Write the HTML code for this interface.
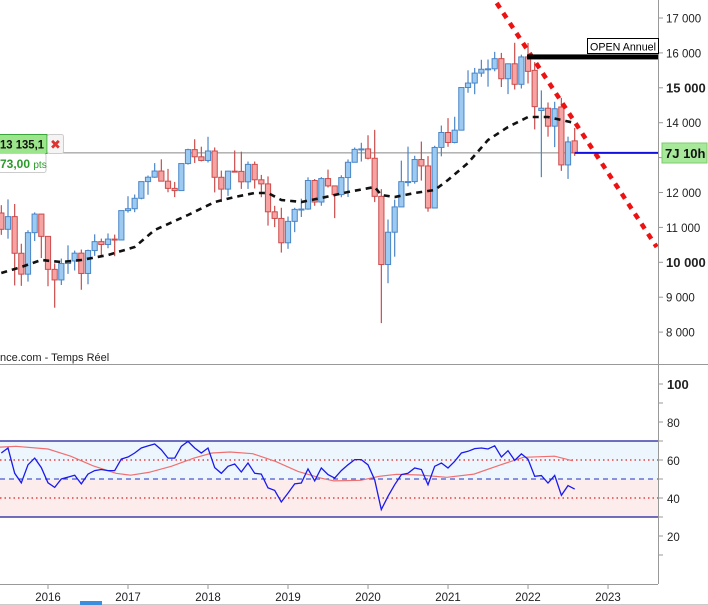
<!DOCTYPE html>
<html><head><meta charset="utf-8"><style>
html,body{margin:0;padding:0;background:#fff;}
svg{display:block;font-family:"Liberation Sans",sans-serif;}
</style></head><body>
<svg id="chart" width="708" height="605" viewBox="0 0 708 605">
<defs>
<clipPath id="pclip"><rect x="0" y="0" width="658" height="364"/></clipPath>
<clipPath id="rclip"><rect x="0" y="365" width="658" height="219"/></clipPath>
</defs>
<g id="rsiBands"></g>
<g id="grid"></g>
<g id="price" clip-path="url(#pclip)"></g>
<g id="rsi" clip-path="url(#rclip)"></g>
<g id="ann"></g>
</svg>
<script>
const startMonth = -7; // Jun 2015 relative to Jan 2016
const opens = [11413,10945,11309,10259,9660,10850,11382,
10743,9798,9495,9965,10038,10262,9680,10337,10592,10511,10665,10640,
11481,11535,11834,12312,12438,12615,12325,12118,12055,12829,13229,13023,
12918,13189,12436,12097,12612,12605,12306,12806,12364,12247,11447,11257,
10559,11173,11516,11526,12344,11727,12399,12189,11939,12428,12866,13236,
13249,12981,11890,9936,10862,11587,12311,12313,12945,12761,11556,13291,
13719,13433,13786,15008,15136,15421,15531,15544,15835,15260,15688,15100,
15885,15500,14350,14415,13900,14450,12790,13480];
const highs = [11636,11802,11670,10532,10918,11430,11299,
10486,9967,10107,10486,10336,10366,10363,10802,10680,10827,10794,11481,
11893,11943,12312,12486,12842,12951,12676,12303,12830,13255,13526,13312,
13597,13291,12627,12623,13204,13170,12887,12887,12504,12461,11619,11563,
11311,11561,11823,12435,12386,12440,12656,12165,12494,12948,13289,13425,
13640,13795,12097,11225,11795,12913,13314,13052,13460,13043,13339,13919,
14131,14170,15008,15502,15569,15803,15811,16030,16000,15700,16290,15950,
16285,15736,14926,14580,14600,14710,13600,13850];
const lows = [10787,10677,9338,9325,9447,10609,10123,
9314,8699,9349,9668,9765,9214,9370,10185,10188,10404,10175,10632,
11425,11436,11805,11935,12420,12325,12007,11868,12045,12799,12847,12892,
12860,12003,11726,11903,12596,12104,12103,12115,11865,11051,11009,10279,
10386,10864,11299,11505,11620,11620,12144,11266,11864,11872,12907,12887,
12948,11725,8256,9400,10161,11628,12178,12253,12341,11450,11626,13036,
13310,13409,13830,14857,14816,15315,15032,15474,15022,14819,14951,14979,
15124,13808,12439,13600,13300,12620,12390,13050];
const closes = [10945,11309,10259,9660,10850,11382,10743,
9798,9495,9965,10038,10262,9680,10337,10592,10511,10665,10640,11481,
11535,11834,12312,12438,12615,12325,12118,12055,12829,13229,13023,12918,
13189,12436,12097,12612,12605,12306,12806,12364,12247,11447,11257,10559,
11173,11516,11526,12344,11727,12399,12189,11939,12428,12866,13236,13249,
12981,11890,9936,10862,11587,12311,12313,12945,12761,11556,13291,13719,
13433,13786,15008,15136,15421,15531,15544,15835,15260,15688,15100,15885,
15471,14461,14415,13900,14400,12790,13450,13135];
const maMonths = [-7,-4,-1,2,5,9,13,16,21,25,28,31,33,35,38,41,45,49,50,52,55,58,60,63,66,69,72,75,77,79];
const maValues = [9694,9865,10066,10009,10066,10209,10438,10926,11355,11728,11871,11986,11986,11785,11728,11843,12014,12158,11928,11871,11986,12072,12358,12845,13504,13877,14163,14163,14077,13991];
const rsiValues = [63.7,66.3,53,48,57.5,61,56,
48,45.6,50,51,52,47.4,52.6,54.4,55,54.4,54.4,60.5,
61.6,63.7,66.3,67.4,68.4,65.4,61,61,67.2,69.8,66.3,63.7,
66.3,56,53,56.7,57.9,53.7,58.4,53,52.6,45.3,44,37.9,
42.6,47.4,47.9,55.3,49,55.8,52.3,50.5,54.4,57.5,60.2,60.2,
57.5,49.6,33.9,40.9,47,52.3,53,55.8,55,47,56.7,58.4,
55.8,59.3,63.7,64.6,66,66.3,65.8,67.5,61.6,64.9,59.8,63.2,
60.5,51.4,51.8,47.9,51.9,41.4,46.5,44.7];
const sigMonths = [-7.2,-4.8,0,3.4,6.7,10.2,12.4,15.1,18.5,21.9,24.6,27.3,30.7,34.1,37.5,40.9,42.9,46.9,49.7,52.3,55.7,59.8,63.9,67.9,71.3,76.0,78.7];
const sigValues = [66.8,67.2,65.8,62,57,53,52,53.5,56.7,61,63.7,64.2,63.3,59.3,54,50.5,49,49.3,51.4,52.5,52.1,50.9,52.6,57.5,61.4,62,59.6];
const priceTicks = [17000,16000,15000,14000,13000,12000,11000,10000,9000,8000];
const priceTickLabels = ["17 000","16 000","15 000","14 000","13 000","12 000","11 000","10 000","9 000","8 000"];
const rsiTicks = [100,80,60,40,20];
const yearLabels = ["2016","2017","2018","2019","2020","2021","2022","2023"];
const lastPrice = 13135.1;
const yearOpen = 15885;
const trendStart = [67.3,17430];
const trendEnd = [91.3,10438];

const NS="http://www.w3.org/2000/svg";
const xM = m => 48 + m*6.667;
const yP = v => 18 + (17000 - v)*0.0349;
const yR = v => 460 - (v - 60)*1.9;
function mk(parent, tag, attrs, text){
  const el=document.createElementNS(NS,tag);
  for(const k in attrs) el.setAttribute(k,attrs[k]);
  if(text!==undefined) el.textContent=text;
  parent.appendChild(el); return el;
}
const gGrid=document.getElementById('grid'), gP=document.getElementById('price'),
  gR=document.getElementById('rsi'), gA=document.getElementById('ann'), gB=document.getElementById('rsiBands');

let b1=mk(gB,'rect',{x:0,y:yR(70),width:658,height:yR(50)-yR(70),fill:'#eef6fd'});


let b2=mk(gB,'rect',{x:0,y:yR(50),width:658,height:yR(30)-yR(50),fill:'#fdecec'});


[[70,'#1a1a9a','none',1.2],[30,'#1a1a9a','none',1.2],[50,'#2030c0','5,4',1],[60,'#e02020','1.5,3',1.2],[40,'#e02020','1.5,3',1.2]].forEach(l=>{
  const ln=mk(gB,'line',{x1:0,x2:658,y1:yR(l[0]),y2:yR(l[0]),stroke:l[1],'stroke-width':l[3],'stroke-dasharray':l[2]});
  
  
});

mk(gGrid,'line',{x1:658.5,x2:658.5,y1:0,y2:584,stroke:'#999','stroke-width':1});
mk(gGrid,'line',{x1:0,x2:708,y1:364.5,y2:364.5,stroke:'#999','stroke-width':1});
mk(gGrid,'line',{x1:0,x2:658,y1:584.5,y2:584.5,stroke:'#999','stroke-width':1});
mk(gGrid,'line',{x1:0,x2:708,y1:604.5,y2:604.5,stroke:'#ccc','stroke-width':1});
mk(gGrid,'rect',{x:80,y:601,width:22,height:4,fill:'#3a8ee0'});
priceTicks.forEach((v,i)=>{
  const y=yP(v);
  mk(gGrid,'line',{x1:658,x2:663,y1:y,y2:y,stroke:'#999'});
  const big=(v===15000||v===10000);
  const t=mk(gGrid,'text',{x:666,y:y+4.5,'font-size':big?13:11.5,'font-weight':big?'bold':'normal',fill:'#222'},priceTickLabels[i]);
  
  
});
rsiTicks.forEach(v=>{
  const y=yR(v);
  mk(gGrid,'line',{x1:658,x2:663,y1:y,y2:y,stroke:'#999'});
  mk(gGrid,'line',{x1:658,x2:663,y1:yR(v-10),y2:yR(v-10),stroke:'#999'});
  const t=mk(gGrid,'text',{x:667,y:y+5,'font-size':v===100?13:11.5,'font-weight':v===100?'bold':'normal',fill:'#222'},String(v));
  
  
});
yearLabels.forEach((lab,i)=>{
  const x=xM(i*12);
  mk(gGrid,'line',{x1:x,x2:x,y1:584,y2:589,stroke:'#999'});
  const t=mk(gGrid,'text',{x:x,y:601,'font-size':11.5,'text-anchor':'middle',fill:'#222'},lab);
  
  
});

mk(gP,'line',{x1:0,x2:658,y1:yP(lastPrice),y2:yP(lastPrice),stroke:'#888','stroke-width':1});

closes.forEach((c,i)=>{
  const m=startMonth+i, x=xM(m), o=opens[i];
  const up=c>=o;
  const stroke=up?'#4a86c8':'#cc4c4c', fill=up?'#9ccaf0':'#f5a3a3';
  const g=mk(gP,'g',{});
  
  
  mk(g,'line',{x1:x,x2:x,y1:yP(highs[i]),y2:yP(lows[i]),stroke:stroke,'stroke-width':1.2});
  const top=yP(Math.max(o,c)), bot=yP(Math.min(o,c));
  mk(g,'rect',{x:x-2.6,y:top,width:5.2,height:Math.max(1,bot-top),fill:fill,stroke:stroke,'stroke-width':1});
});

let d='';
maMonths.forEach((m,i)=>{d+=(i?'L':'M')+xM(m).toFixed(1)+' '+yP(maValues[i]).toFixed(1);});
const ma=mk(gP,'path',{d:d,fill:'none',stroke:'#111','stroke-width':2.6,'stroke-dasharray':'6,5'});



const tl=mk(gP,'line',{x1:xM(trendStart[0]),y1:yP(trendStart[1]),x2:xM(trendEnd[0]),y2:yP(trendEnd[1]),stroke:'#ee1111','stroke-width':4.5,'stroke-dasharray':'6,6'});



const yo=mk(gP,'rect',{x:xM(72)-1,y:yP(yearOpen)-2.5,width:660-xM(72),height:5,fill:'#000'});



const bl=mk(gP,'line',{x1:xM(79),x2:658,y1:yP(lastPrice),y2:yP(lastPrice),stroke:'#1010e0','stroke-width':2});



let sd='';
sigMonths.forEach((m,i)=>{sd+=(i?'L':'M')+xM(m).toFixed(1)+' '+yR(sigValues[i]).toFixed(1);});
const sl=mk(gR,'path',{d:sd,fill:'none',stroke:'#f07070','stroke-width':1.2});


let rd='';
rsiValues.forEach((v,i)=>{rd+=(i?'L':'M')+xM(startMonth+i).toFixed(1)+' '+yR(v).toFixed(1);});
const rl=mk(gR,'path',{d:rd,fill:'none',stroke:'#1a1aee','stroke-width':1.3});


</script>
<svg width="708" height="605" style="position:absolute;left:0;top:0">
  <g>
    <rect x="587.5" y="38.5" width="71" height="15" fill="#fff" stroke="#000"/>
    <text x="590" y="50.5" font-size="11" fill="#000" textLength="66" lengthAdjust="spacingAndGlyphs" font-family="Liberation Sans, sans-serif">OPEN Annuel</text>
  </g>
  <g>
    <rect x="662" y="143" width="45" height="20" fill="#a8e89a" stroke="#7ccc6c"/>
    <text x="665" y="158" font-size="13" font-weight="bold" fill="#111" font-family="Liberation Sans, sans-serif">7J 10h</text>
  </g>
  <g>
    <rect x="-2" y="134.5" width="49" height="19" fill="#9be58a" stroke="#3aa53a"/>
    <text x="0" y="148.5" font-size="12" font-weight="bold" fill="#111" textLength="44" lengthAdjust="spacingAndGlyphs" font-family="Liberation Sans, sans-serif">13 135,1</text>
    <rect x="-2" y="153.5" width="48" height="19" rx="2" fill="#fff" stroke="#ccc"/>
    <text x="0" y="168" font-size="12" font-weight="bold" fill="#2a9a2a" font-family="Liberation Sans, sans-serif">73,00 <tspan font-size="10" font-weight="normal">pts</tspan></text>
  </g>
  <g>
    <rect x="47.5" y="134.5" width="16" height="19" rx="2" fill="#f4f4f4" stroke="#ccc"/>
    <text x="50" y="149" font-size="13" font-weight="bold" fill="#dd3333" font-family="DejaVu Sans, sans-serif">✖</text>
  </g>
  <text x="0" y="361" font-size="11" fill="#222" font-family="Liberation Sans, sans-serif">nce.com - Temps Réel</text>
</svg>
</body></html>
